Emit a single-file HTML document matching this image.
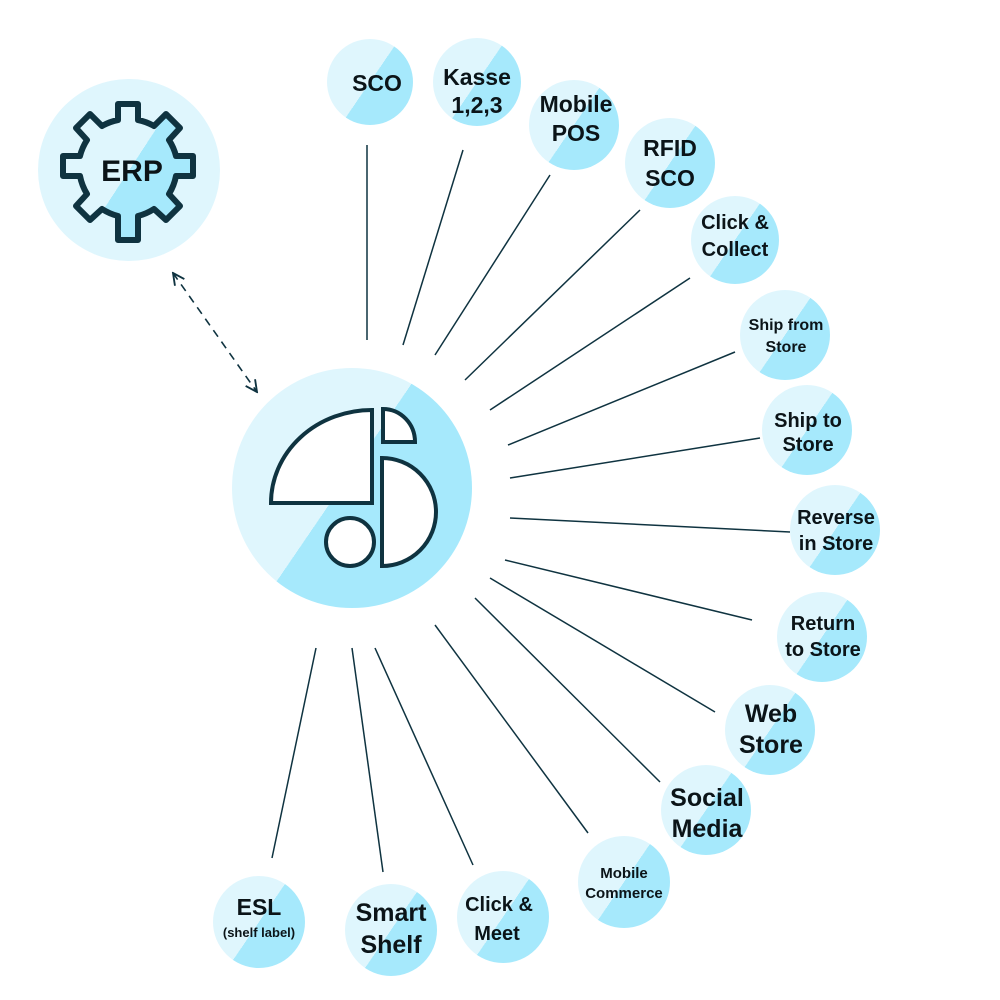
<!DOCTYPE html>
<html><head><meta charset="utf-8"><style>
body{margin:0;background:#fff}
svg{display:block}
text{font-family:"Liberation Sans",sans-serif;font-weight:bold;fill:#0b1418;text-anchor:middle}
</style></head><body>
<svg width="1000" height="1000" viewBox="0 0 1000 1000">
<defs>
<linearGradient id="g" x1="0.087" y1="0.218" x2="0.913" y2="0.782">
<stop offset="0.5" stop-color="#dff6fd"/><stop offset="0.5" stop-color="#a6e9fc"/>
</linearGradient>
<linearGradient id="gc" x1="0.087" y1="0.218" x2="0.913" y2="0.782">
<stop offset="0.46" stop-color="#dff6fd"/><stop offset="0.46" stop-color="#a6e9fc"/>
</linearGradient>
<marker id="ah" viewBox="0 0 10 10" refX="9" refY="5" markerWidth="9" markerHeight="9" orient="auto-start-reverse">
<path d="M1,1 L9,5 L1,9" fill="none" stroke="#0f3340" stroke-width="1.3"/>
</marker>
</defs>
<g stroke="#0f3340" stroke-width="1.5">
<line x1="367" y1="145" x2="367" y2="340"/>
<line x1="463" y1="150" x2="403" y2="345"/>
<line x1="550" y1="175" x2="435" y2="355"/>
<line x1="640" y1="210" x2="465" y2="380"/>
<line x1="690" y1="278" x2="490" y2="410"/>
<line x1="735" y1="352" x2="508" y2="445"/>
<line x1="760" y1="438" x2="510" y2="478"/>
<line x1="790" y1="532" x2="510" y2="518"/>
<line x1="752" y1="620" x2="505" y2="560"/>
<line x1="715" y1="712" x2="490" y2="578"/>
<line x1="660" y1="782" x2="475" y2="598"/>
<line x1="588" y1="833" x2="435" y2="625"/>
<line x1="473" y1="865" x2="375" y2="648"/>
<line x1="383" y1="872" x2="352" y2="648"/>
<line x1="272" y1="858" x2="316" y2="648"/>
</g>
<line x1="173" y1="273" x2="257" y2="392" stroke="#0f3340" stroke-width="1.6" stroke-dasharray="8,6" marker-start="url(#ah)" marker-end="url(#ah)"/>

<!-- ERP -->
<circle cx="129" cy="170" r="91" fill="#dff6fd"/>
<g transform="translate(128,172)">
<path id="gear" fill="url(#g)" stroke="#0f3340" stroke-width="6" stroke-linejoin="round" d="
M-10,-68 L10,-68 L10,-52 A54,54 0 0 1 26,-46 L38,-58 L52,-44 L41,-32 A54,54 0 0 1 48,-16 L65,-16 L65,4 L48,4 A54,54 0 0 1 41,22 L52,34 L38,48 L26,37 A54,54 0 0 1 10,44 L10,68 L-10,68 L-10,44 A54,54 0 0 1 -26,37 L-38,48 L-52,34 L-41,22 A54,54 0 0 1 -48,4 L-65,4 L-65,-16 L-48,-16 A54,54 0 0 1 -41,-32 L-52,-44 L-38,-58 L-26,-46 A54,54 0 0 1 -10,-52 Z"/>
</g>
<text x="132" y="181" font-size="30">ERP</text>

<!-- center -->
<circle cx="352" cy="488" r="120" fill="url(#gc)"/>
<g fill="#fff" stroke="#0f3340" stroke-width="4">
<path d="M372,410 L372,503 L271,503 A101,93 0 0 1 372,410 Z"/>
<path d="M383,409 L383,442 L415,442 A32,33 0 0 0 383,409 Z"/>
<path d="M382,458 L382,566 A54,54 0 0 0 382,458 Z"/>
<circle cx="350" cy="542" r="24"/>
</g>

<!-- nodes -->
<g>
<circle cx="370" cy="82" r="43" fill="url(#g)"/>
<circle cx="477" cy="82" r="44" fill="url(#g)"/>
<circle cx="574" cy="125" r="45" fill="url(#g)"/>
<circle cx="670" cy="163" r="45" fill="url(#g)"/>
<circle cx="735" cy="240" r="44" fill="url(#g)"/>
<circle cx="785" cy="335" r="45" fill="url(#g)"/>
<circle cx="807" cy="430" r="45" fill="url(#g)"/>
<circle cx="835" cy="530" r="45" fill="url(#g)"/>
<circle cx="822" cy="637" r="45" fill="url(#g)"/>
<circle cx="770" cy="730" r="45" fill="url(#g)"/>
<circle cx="706" cy="810" r="45" fill="url(#g)"/>
<circle cx="624" cy="882" r="46" fill="url(#g)"/>
<circle cx="503" cy="917" r="46" fill="url(#g)"/>
<circle cx="391" cy="930" r="46" fill="url(#g)"/>
<circle cx="259" cy="922" r="46" fill="url(#g)"/>
</g>
<g font-size="23">
<text x="377" y="91">SCO</text>
<text x="477" y="85">Kasse</text><text x="477" y="113">1,2,3</text>
<text x="576" y="112">Mobile</text><text x="576" y="141">POS</text>
<text x="670" y="156">RFID</text><text x="670" y="186">SCO</text>
</g>
<g font-size="20">
<text x="735" y="229">Click &amp;</text><text x="735" y="256">Collect</text>
<text x="808" y="427">Ship to</text><text x="808" y="451">Store</text>
<text x="836" y="524">Reverse</text><text x="836" y="550">in Store</text>
<text x="823" y="630">Return</text><text x="823" y="656">to Store</text>
<text x="499" y="911">Click &amp;</text><text x="497" y="940">Meet</text>
</g>
<g font-size="16">
<text x="786" y="330">Ship from</text><text x="786" y="352">Store</text>
</g>
<g font-size="15">
<text x="624" y="878">Mobile</text><text x="624" y="898">Commerce</text>
</g>
<g font-size="25">
<text x="771" y="722">Web</text><text x="771" y="753">Store</text>
<text x="707" y="806">Social</text><text x="707" y="837">Media</text>
<text x="391" y="921">Smart</text><text x="391" y="953">Shelf</text>
</g>
<text x="259" y="915" font-size="23">ESL</text>
<text x="259" y="937" font-size="13">(shelf label)</text>
</svg>
</body></html>
